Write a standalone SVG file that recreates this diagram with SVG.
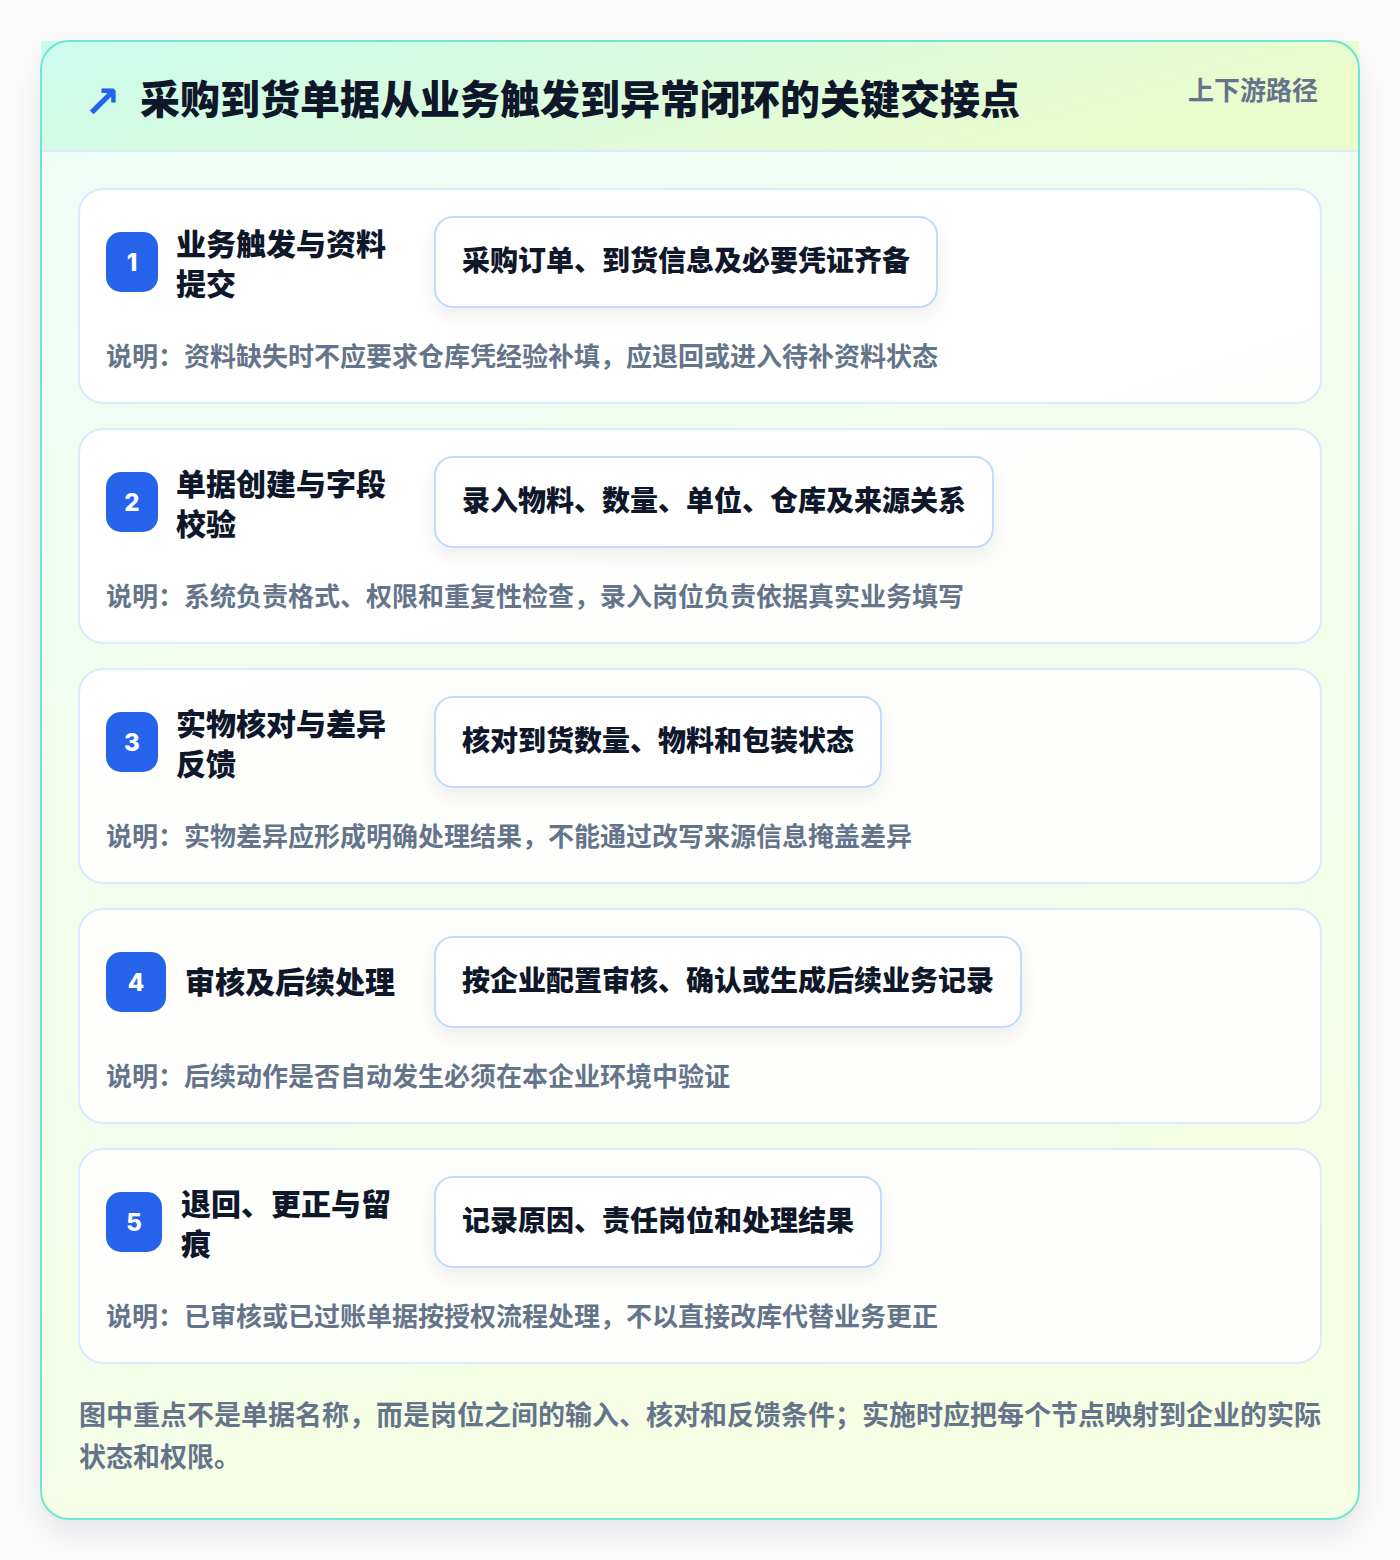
<svg xmlns="http://www.w3.org/2000/svg" width="1400" height="1560" viewBox="0 0 1400 1560">
<defs>
<linearGradient id="bodyGrad" x1="0" y1="0" x2="0.3" y2="1">
<stop offset="0" stop-color="#effdf9"/>
<stop offset="1" stop-color="#f6fee4"/>
</linearGradient>
<linearGradient id="headGrad" x1="0" y1="0" x2="1" y2="0.3">
<stop offset="0" stop-color="#ccfbef"/>
<stop offset="0.5" stop-color="#dafbdd"/>
<stop offset="1" stop-color="#eafccd"/>
</linearGradient>
<filter id="outerShadow" x="-10%" y="-10%" width="120%" height="120%">
<feDropShadow dx="0" dy="14" stdDeviation="16" flood-color="#0f172a" flood-opacity="0.09"/>
</filter>
<filter id="pillShadow" x="-10%" y="-30%" width="120%" height="170%">
<feDropShadow dx="0" dy="8" stdDeviation="9" flood-color="#0f172a" flood-opacity="0.07"/>
</filter>
<style>
.card{fill:#ffffff;fill-opacity:0.88;stroke:#dbeafe;stroke-width:2}
.badge{fill:#2563eb}
.num{font-family:"Inter","Noto Sans",sans-serif;font-weight:800;font-size:24px;fill:#ffffff;text-anchor:middle}
.ttl{font-family:"Noto Sans CJK SC","Noto Sans",sans-serif;font-weight:900;font-size:30px;fill:#0f172a}
.pill{fill:#ffffff;stroke:#bfdbfe;stroke-width:2}
.ptxt{font-family:"Noto Sans CJK SC","Noto Sans",sans-serif;font-weight:900;font-size:28px;fill:#0f172a}
.desc{font-family:"Noto Sans CJK SC","Noto Sans",sans-serif;font-weight:700;font-size:26px;fill:#64748b}
.foot{font-family:"Noto Sans CJK SC","Noto Sans",sans-serif;font-weight:700;font-size:27px;fill:#64748b}
</style>
</defs>
<rect x="0" y="0" width="1400" height="1560" fill="#fbfbfb"/>
<g id="frame">
<rect x="41" y="41" width="1318" height="1478" rx="28" fill="url(#bodyGrad)" filter="url(#outerShadow)"/>
<rect x="41" y="41" width="1318" height="110" fill="url(#headGrad)"/>
<line x1="41" y1="151" x2="1359" y2="151" stroke="#dbeafe" stroke-width="2"/>
<rect x="41" y="41" width="1318" height="1478" rx="28" fill="none" stroke="#6ee7d2" stroke-width="2"/>
</g>
<g id="header">
<text x="84" y="117" font-family="DejaVu Sans,sans-serif" font-size="44" font-weight="700" fill="#2563eb">↗</text>
<text x="140" y="114" font-family="&quot;Noto Sans CJK SC&quot;,&quot;Noto Sans&quot;,sans-serif" font-weight="900" font-size="40" fill="#0f172a">采购到货单据从业务触发到异常闭环的关键交接点</text>
<text x="1318" y="100" text-anchor="end" font-family="&quot;Noto Sans CJK SC&quot;,&quot;Noto Sans&quot;,sans-serif" font-weight="700" font-size="26" fill="#64748b">上下游路径</text>
</g>
<g id="connectors"></g>
<g id="node1">
<rect class="card" x="79" y="189" width="1242" height="214" rx="24"/>
<rect class="badge" x="106" y="232" width="52" height="60" rx="15"/>
<text class="num" x="132" y="271">1</text>
<text class="ttl" x="176" y="255">业务触发与资料</text>
<text class="ttl" x="176" y="295">提交</text>
<rect class="pill" x="435" y="217" width="502" height="90" rx="18" filter="url(#pillShadow)"/>
<text class="ptxt" x="462" y="271">采购订单、到货信息及必要凭证齐备</text>
<text class="desc" x="106" y="366">说明：资料缺失时不应要求仓库凭经验补填，应退回或进入待补资料状态</text>
</g>
<g id="node2">
<rect class="card" x="79" y="429" width="1242" height="214" rx="24"/>
<rect class="badge" x="106" y="472" width="52" height="60" rx="15"/>
<text class="num" x="132" y="511">2</text>
<text class="ttl" x="176" y="495">单据创建与字段</text>
<text class="ttl" x="176" y="535">校验</text>
<rect class="pill" x="435" y="457" width="558" height="90" rx="18" filter="url(#pillShadow)"/>
<text class="ptxt" x="462" y="511">录入物料、数量、单位、仓库及来源关系</text>
<text class="desc" x="106" y="606">说明：系统负责格式、权限和重复性检查，录入岗位负责依据真实业务填写</text>
</g>
<g id="node3">
<rect class="card" x="79" y="669" width="1242" height="214" rx="24"/>
<rect class="badge" x="106" y="712" width="52" height="60" rx="15"/>
<text class="num" x="132" y="751">3</text>
<text class="ttl" x="176" y="735">实物核对与差异</text>
<text class="ttl" x="176" y="775">反馈</text>
<rect class="pill" x="435" y="697" width="446" height="90" rx="18" filter="url(#pillShadow)"/>
<text class="ptxt" x="462" y="751">核对到货数量、物料和包装状态</text>
<text class="desc" x="106" y="846">说明：实物差异应形成明确处理结果，不能通过改写来源信息掩盖差异</text>
</g>
<g id="node4">
<rect class="card" x="79" y="909" width="1242" height="214" rx="24"/>
<rect class="badge" x="106" y="952" width="60" height="60" rx="15"/>
<text class="num" x="136" y="991">4</text>
<text class="ttl" x="185" y="993">审核及后续处理</text>
<rect class="pill" x="435" y="937" width="586" height="90" rx="18" filter="url(#pillShadow)"/>
<text class="ptxt" x="462" y="991">按企业配置审核、确认或生成后续业务记录</text>
<text class="desc" x="106" y="1086">说明：后续动作是否自动发生必须在本企业环境中验证</text>
</g>
<g id="node5">
<rect class="card" x="79" y="1149" width="1242" height="214" rx="24"/>
<rect class="badge" x="106" y="1192" width="56" height="60" rx="15"/>
<text class="num" x="134" y="1231">5</text>
<text class="ttl" x="181" y="1215">退回、更正与留</text>
<text class="ttl" x="181" y="1255">痕</text>
<rect class="pill" x="435" y="1177" width="446" height="90" rx="18" filter="url(#pillShadow)"/>
<text class="ptxt" x="462" y="1231">记录原因、责任岗位和处理结果</text>
<text class="desc" x="106" y="1326">说明：已审核或已过账单据按授权流程处理，不以直接改库代替业务更正</text>
</g>
<g id="footer">
<text class="foot" x="79" y="1425">图中重点不是单据名称，而是岗位之间的输入、核对和反馈条件；实施时应把每个节点映射到企业的实际</text>
<text class="foot" x="79" y="1467">状态和权限。</text>
</g>
</svg>
